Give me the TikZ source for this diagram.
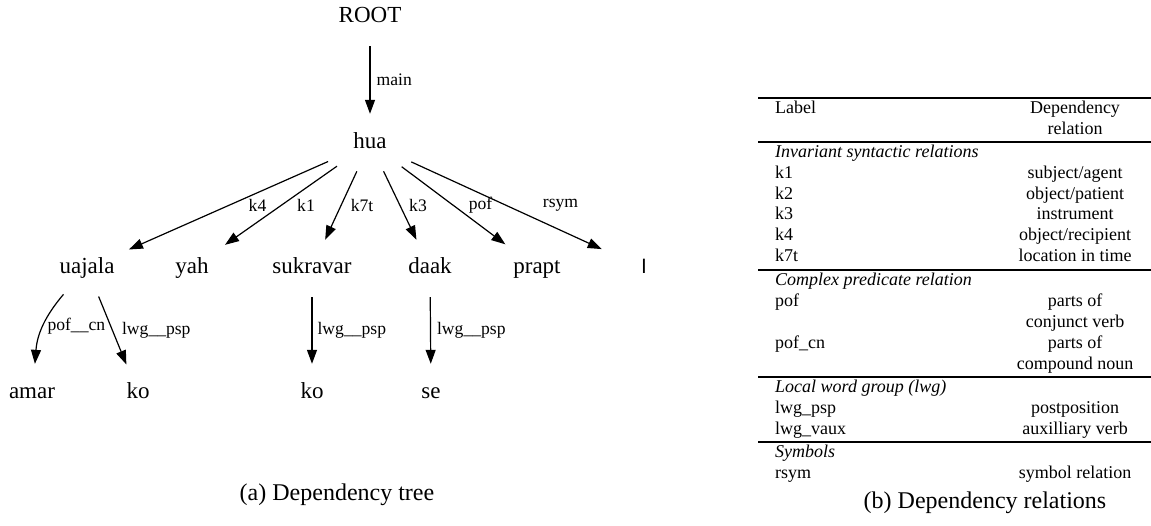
\documentclass[tikz,border=0pt]{standalone}
\usepackage{fontspec}
\setmainfont{Liberation Serif}
\newfontfamily\devfont[Script=Devanagari]{Noto Sans}
\usetikzlibrary{shapes.geometric,arrows.meta}
\tikzset{
  word/.style={ellipse, minimum width=108, minimum height=58, inner sep=0pt,
    text height=16pt, text depth=5pt, font=\fontsize{23}{27}\selectfont},
  dep/.style={-{Triangle[length=14pt,width=10pt]}, line width=1.2pt},
  lbl/.style={inner sep=0pt, font=\fontsize{17.6}{20}\selectfont},
  cell/.style={inner sep=0pt, text height=12.6pt, text depth=4pt,
    font=\fontsize{18}{21}\selectfont},
  rule/.style={line width=1.2pt},
  subcap/.style={font=\fontsize{24}{28}\selectfont}
}
\begin{document}
\begin{tikzpicture}[x=1pt, y=-1pt]
    \useasboundingbox (0,0) rectangle (1151,525);
    % (a) tree
    \node[word] (root) at (370,17) {ROOT};
    \node[word] (hua) at (370,143) {hua};
    \node[word] (uajala) at (87,268) {uajala};
    \node[word] (yah) at (192,268) {yah};
    \node[word] (sukravar) at (312,268) {sukravar};
    \node[word] (daak) at (430,268) {daak};
    \node[word] (prapt) at (537,268) {prapt};
    \node[word, font=\devfont\fontsize{23}{27}\selectfont] (danda) at (643,268) {।};
    \node[word] (amar) at (32,393) {amar};
    \node[word] (ko1) at (138,393) {ko};
    \node[word] (ko2) at (312,393) {ko};
    \node[word] (se) at (431,393) {se};
    \draw[dep] (root) -- node[lbl, anchor=west, xshift=6] {main} (hua);
    \draw[dep] (hua) -- node[lbl, xshift=29] {k4} (uajala);
    \draw[dep] (hua) -- node[lbl, xshift=25] {k1} (yah);
    \draw[dep] (hua) -- node[lbl, xshift=21] {k7t} (sukravar);
    \draw[dep] (hua) -- node[lbl, xshift=18] {k3} (daak);
    \draw[dep] (hua) -- node[lbl, xshift=27] {pof} (prapt);
    \draw[dep] (hua) -- node[lbl, xshift=54] {rsym} (danda);
    \draw[dep] (uajala) to[bend right=18] node[lbl, anchor=west, xshift=4] {pof\_\_cn} (amar);
    \draw[dep] (uajala) -- node[lbl, anchor=west, xshift=9] {lwg\_\_psp} (ko1);
    \draw[dep] (sukravar) -- node[lbl, anchor=west, xshift=5] {lwg\_\_psp} (ko2);
    \draw[dep] (daak) -- node[lbl, anchor=west, xshift=6] {lwg\_\_psp} (se);
    \node[subcap] (capa) at (337,495) {(a) Dependency tree};
    % (b) table
    \draw[rule] (758,98) -- (1151,98);
    \node[cell, anchor=west] (lhead) at (775,109) {Label};
    \node[cell] (rhead) at (1075,109) {Dependency};
    \node[cell] (rhead2) at (1075,130) {relation};
    \draw[rule] (758,142) -- (1151,142);
    \node[cell, anchor=west] (sec1) at (775,153) {\itshape Invariant syntactic relations};
    \foreach \y/\a/\b in {174/k1/{subject/agent}, 195/k2/{object/patient},
        215/k3/instrument, 236/k4/{object/recipient}, 257/k7t/{location in time}}{
      \node[cell, anchor=west] (a\y) at (775,\y) {\a};
      \node[cell] (b\y) at (1075,\y) {\b};
    }
    \draw[rule] (758,270) -- (1151,270);
    \node[cell, anchor=west] (sec2) at (775,281) {\itshape Complex predicate relation};
    \node[cell, anchor=west] (a302) at (775,302) {pof};
    \node[cell] (b302) at (1075,302) {parts of};
    \node[cell] (b323) at (1075,323) {conjunct verb};
    \node[cell, anchor=west] (a344) at (775,344) {pof\_cn};
    \node[cell] (b344) at (1075,344) {parts of};
    \node[cell] (b365) at (1075,365) {compound noun};
    \draw[rule] (758,377) -- (1151,377);
    \node[cell, anchor=west] (sec3) at (775,388) {\itshape Local word group (lwg)};
    \node[cell, anchor=west] (a409) at (775,409) {lwg\_psp};
    \node[cell] (b409) at (1075,409) {postposition};
    \node[cell, anchor=west] (a430) at (775,430) {lwg\_vaux};
    \node[cell] (b430) at (1075,430) {auxilliary verb};
    \draw[rule] (758,442) -- (1151,442);
    \node[cell, anchor=west] (sec4) at (775,453) {\itshape Symbols};
    \node[cell, anchor=west] (a474) at (775,474) {rsym};
    \node[cell] (b474) at (1075,474) {symbol relation};
    \node[subcap] (capb) at (985,503) {(b) Dependency relations};
  \end{tikzpicture}
\end{document}
